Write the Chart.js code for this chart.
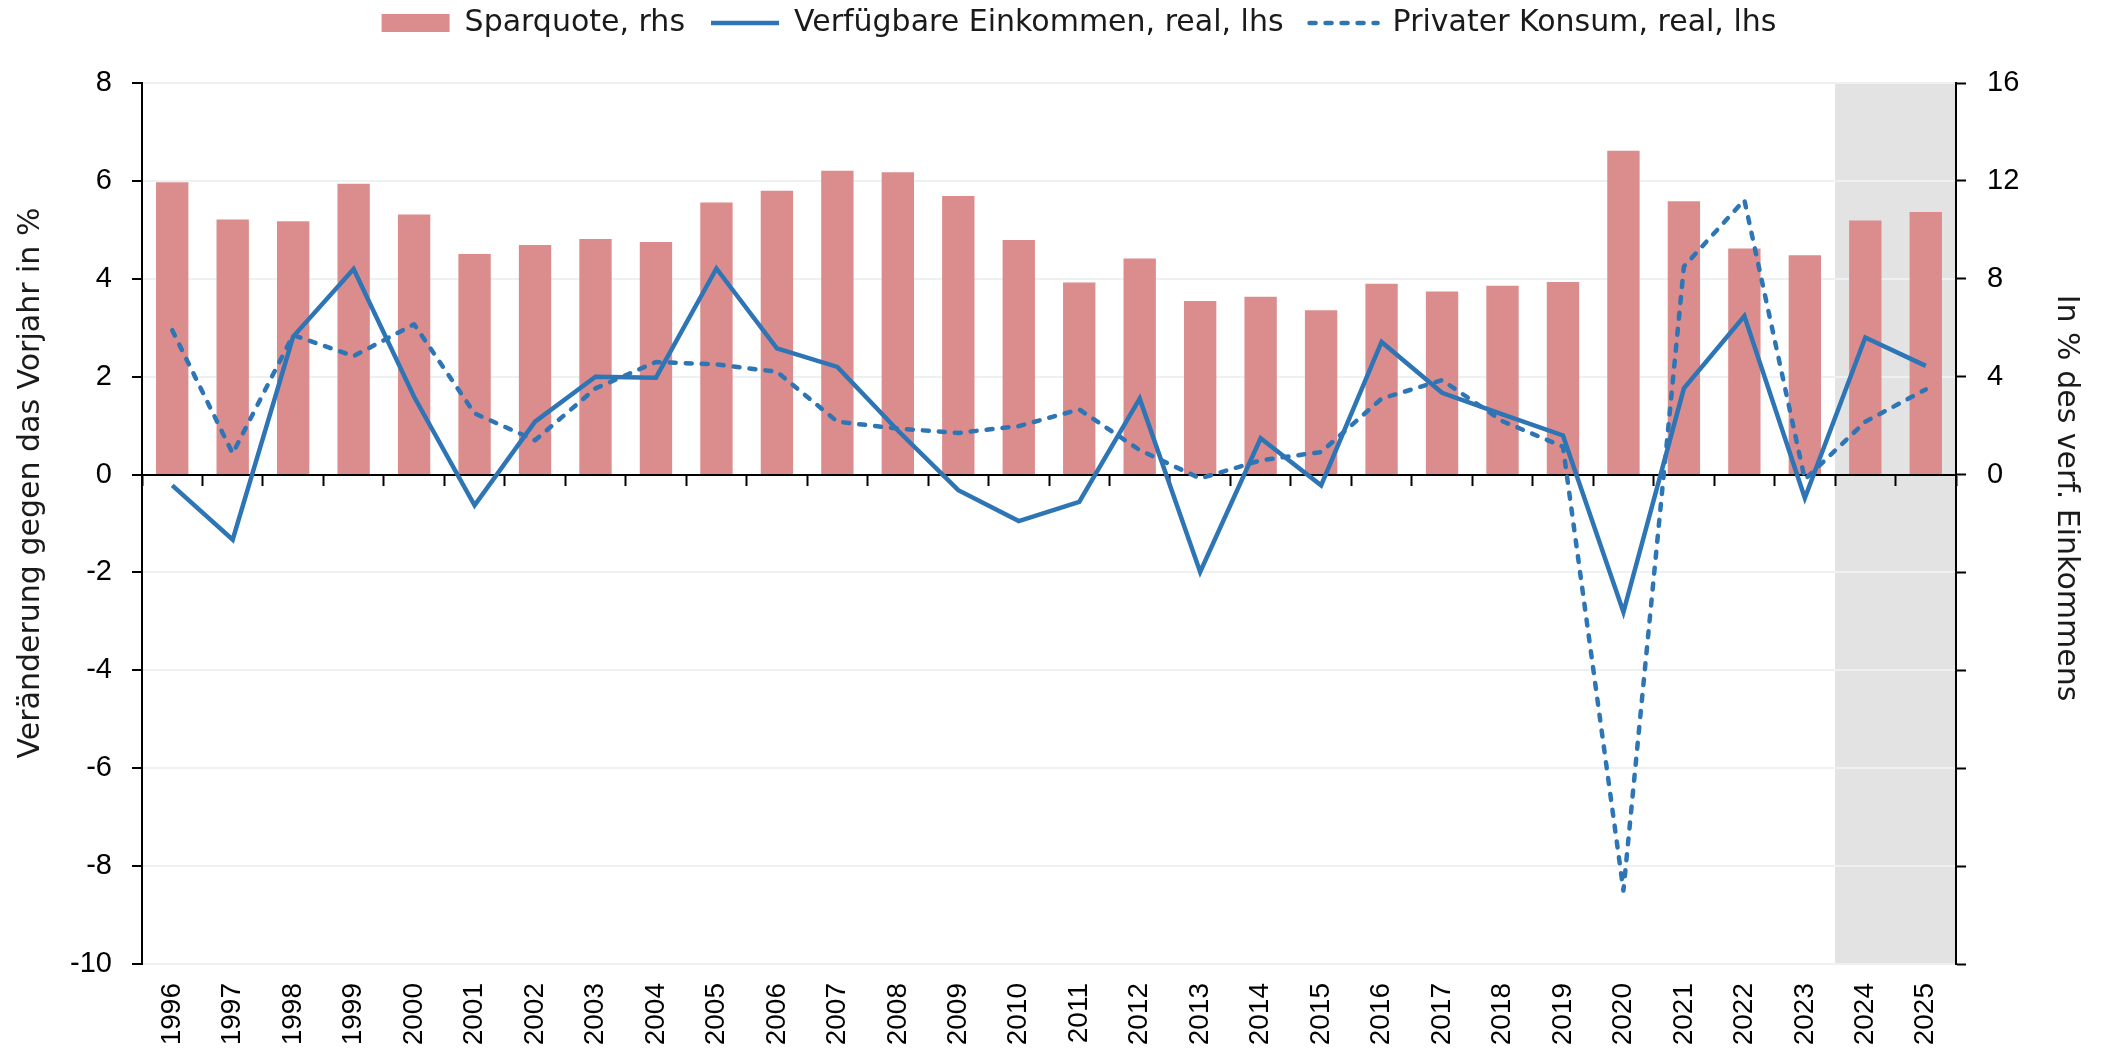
<!DOCTYPE html>
<html>
<head>
<meta charset="utf-8">
<script src="https://cdn.jsdelivr.net/npm/chart.js@4.4.1/dist/chart.umd.min.js"></script>
<style>
  html, body { margin: 0; padding: 0; background: #ffffff; }
  #wrap { width: 2102px; height: 1057px; }
</style>
</head>
<body>
<div id="wrap"><canvas id="c" width="2102" height="1057"></canvas></div>
<script>
// ---- data ----
const years = ['1996','1997','1998','1999','2000','2001','2002','2003','2004','2005',
               '2006','2007','2008','2009','2010','2011','2012','2013','2014','2015',
               '2016','2017','2018','2019','2020','2021','2022','2023','2024','2025'];
const sparquote = [11.94, 10.42, 10.35, 11.88, 10.63, 9.01, 9.38, 9.63, 9.50, 11.12,
                   11.60, 12.41, 12.35, 11.38, 9.58, 7.85, 8.83, 7.09, 7.27, 6.71,
                   7.80, 7.48, 7.72, 7.87, 13.23, 11.17, 9.24, 8.96, 10.38, 10.73];
const einkommen = [-0.22, -1.33, 2.82, 4.20, 1.59, -0.63, 1.08, 2.00, 1.98, 4.21,
                   2.58, 2.20, 0.90, -0.32, -0.95, -0.56, 1.55, -1.99, 0.74, -0.22,
                   2.71, 1.67, 1.23, 0.80, -2.81, 1.76, 3.24, -0.48, 2.80, 2.22];
const konsum = [2.95, 0.43, 2.85, 2.42, 3.07, 1.25, 0.70, 1.76, 2.30, 2.25,
                2.10, 1.08, 0.94, 0.85, 0.99, 1.33, 0.50, -0.08, 0.29, 0.46,
                1.55, 1.93, 1.09, 0.57, -8.50, 4.25, 5.61, -0.10, 1.08, 1.74];
const forecastYears = ['2024', '2025'];
const seriesLabels = ['Sparquote, rhs', 'Verfügbare Einkommen, real, lhs', 'Privater Konsum, real, lhs'];
const leftAxisTitle = 'Veränderung gegen das Vorjahr in %';
const rightAxisTitle = 'In % des verf. Einkommens';
const leftRange = [-10, 8];
const leftStep = 2;
const rightRange = [-20, 16];
const rightStep = 4;

// ---- styles ----
const BAR_COLOR = '#DB8C8C';
const LINE_COLOR = '#2E75B6';
const SHADE_COLOR = '#E3E3E3';
const GRID_COLOR = '#EDF1F1';
const TEXT_FONT = '"DejaVu Sans", "Open Sans", sans-serif';
const NUM_FONT = '"Liberation Sans", Arial, sans-serif';

const bgPlugin = {
  id: 'bgAndShade',
  beforeDraw(chart) {
    const ctx = chart.ctx;
    ctx.save();
    ctx.fillStyle = '#ffffff';
    ctx.fillRect(0, 0, chart.width, chart.height);
    const xs = chart.scales.x;
    const ca = chart.chartArea;
    const idx = years.indexOf(forecastYears[0]);
    const half = (xs.getPixelForValue(1) - xs.getPixelForValue(0)) / 2;
    const x0 = xs.getPixelForValue(idx) - half;
    ctx.fillStyle = SHADE_COLOR;
    ctx.fillRect(x0, ca.top, ca.right - x0, ca.bottom - ca.top);
    ctx.restore();
  }
};

const titlePlugin = {
  id: 'axisTitles',
  afterDraw(chart) {
    const ctx = chart.ctx;
    ctx.save();
    ctx.fillStyle = '#1a1a1a';
    ctx.font = '30px ' + TEXT_FONT;
    ctx.textAlign = 'center';
    ctx.textBaseline = 'middle';
    ctx.save();
    ctx.translate(31, 483);
    ctx.rotate(-Math.PI / 2);
    ctx.fillText(leftAxisTitle, 0, 0);
    ctx.restore();
    ctx.save();
    ctx.translate(2066, 498);
    ctx.rotate(Math.PI / 2);
    ctx.fillText(rightAxisTitle, 0, 0);
    ctx.restore();
    ctx.restore();
  }
};

const legendFitPlugin = {
  id: 'legendFit',
  beforeInit(chart) {
    const lg = chart.legend;
    if (lg) {
      const orig = lg.fit;
      lg.fit = function () { orig.call(this); this.height = 101; };
    }
  }
};

new Chart(document.getElementById('c'), {
  type: 'bar',
  data: {
    labels: years,
    datasets: [
      { type: 'bar', label: seriesLabels[0], data: sparquote, xAxisID: 'x', yAxisID: 'y1',
        backgroundColor: BAR_COLOR, borderWidth: 0, barPercentage: 0.535, categoryPercentage: 1, order: 2 },
      { type: 'line', label: seriesLabels[1], data: einkommen, xAxisID: 'x', yAxisID: 'y',
        borderColor: LINE_COLOR, backgroundColor: LINE_COLOR, borderWidth: 4.5, pointRadius: 0,
        tension: 0, fill: false, borderCapStyle: 'butt', borderJoinStyle: 'miter', order: 1 },
      { type: 'line', label: seriesLabels[2], data: konsum, xAxisID: 'x', yAxisID: 'y',
        borderColor: LINE_COLOR, backgroundColor: LINE_COLOR, borderWidth: 4.5, pointRadius: 0,
        tension: 0, fill: false, borderDash: [6, 10], borderCapStyle: 'round', borderJoinStyle: 'round', order: 1 }
    ]
  },
  options: {
    responsive: false,
    animation: false,
    devicePixelRatio: 1,
    layout: { padding: { top: -18, left: 56, right: 0, bottom: 0 } },
    plugins: {
      tooltip: { enabled: false },
      legend: {
        position: 'top',
        align: 'center',
        labels: {
          usePointStyle: true,
          pointStyleWidth: 68,
          boxHeight: 18,
          padding: 26,
          color: '#1a1a1a',
          font: { family: TEXT_FONT, size: 30 },
          generateLabels(chart) {
            return chart.data.datasets.map((ds, i) => ({
              text: ds.label,
              datasetIndex: i,
              fillStyle: ds.type === 'line' ? 'rgba(0,0,0,0)' : ds.backgroundColor,
              strokeStyle: ds.borderColor || ds.backgroundColor,
              lineWidth: ds.type === 'line' ? ds.borderWidth : 0,
              lineDash: ds.borderDash || [],
              lineCap: ds.borderCapStyle || 'butt',
              pointStyle: ds.type === 'line' ? 'line' : 'rect',
              fontColor: '#1a1a1a',
              hidden: false
            }));
          }
        }
      }
    },
    scales: {
      x: {
        type: 'category',
        position: 'bottom',
        offset: true,
        grid: { display: false, drawTicks: false, offset: true },
        border: { display: false },
        ticks: { autoSkip: false, minRotation: 90, maxRotation: 90, padding: 19, color: '#000',
                 font: { family: NUM_FONT, size: 28 } },
        afterFit(s) { s.height = 93; }
      },
      x2: {
        type: 'category',
        axis: 'x',
        labels: years,
        position: { y: 0 },
        offset: true,
        z: 1,
        grid: { display: true, drawOnChartArea: false, drawTicks: true, tickLength: 10,
                tickColor: '#000', tickWidth: 2, offset: true },
        border: { display: true, color: '#000', width: 2 },
        ticks: { display: false }
      },
      y: {
        position: 'left',
        min: leftRange[0],
        max: leftRange[1],
        ticks: { stepSize: leftStep, padding: 20, color: '#000', font: { family: NUM_FONT, size: 29 } },
        grid: { color: GRID_COLOR, lineWidth: 2, drawTicks: true, tickLength: 10, tickColor: '#000', tickWidth: 2 },
        border: { display: true, color: '#000', width: 2 },
        afterFit(s) { s.width = 86; }
      },
      y1: {
        position: 'right',
        min: rightRange[0],
        max: rightRange[1],
        ticks: { stepSize: rightStep, padding: 21, color: '#000', font: { family: NUM_FONT, size: 29 },
                 callback: (v) => (v >= 0 ? String(v) : '') },
        grid: { drawOnChartArea: false, drawTicks: true, tickLength: 10, tickColor: '#000', tickWidth: 2 },
        border: { display: true, color: '#000', width: 2 },
        afterFit(s) { s.width = 146; }
      }
    }
  },
  plugins: [bgPlugin, titlePlugin, legendFitPlugin]
});
</script>
</body>
</html>
